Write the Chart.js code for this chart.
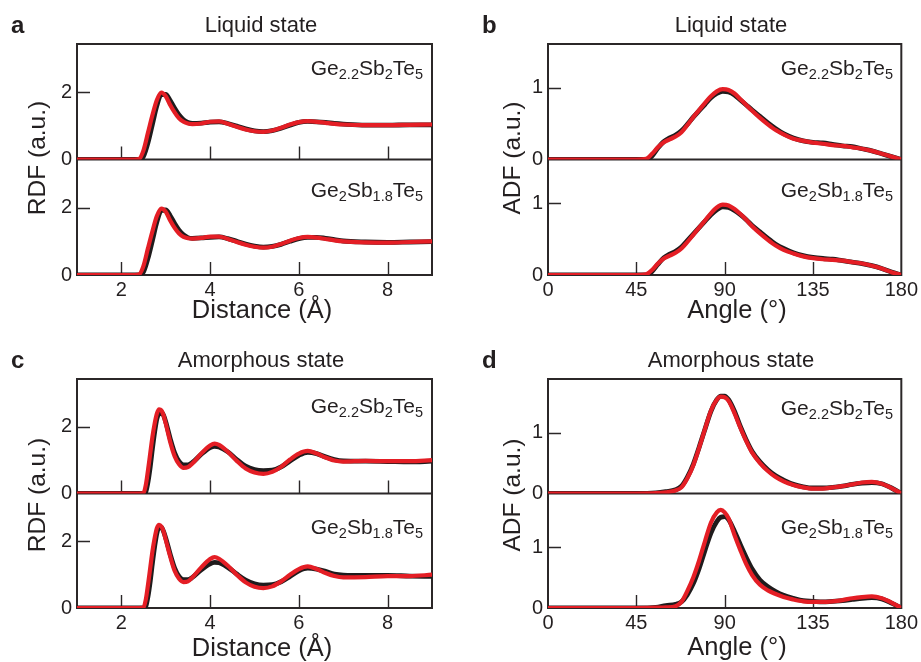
<!DOCTYPE html>
<html>
<head>
<meta charset="utf-8">
<script src="https://cdn.jsdelivr.net/npm/chart.js@4.4.0/dist/chart.umd.min.js"></script>
<style>
body { margin: 0; background: #fff; }
#fig { position: relative; width: 921px; height: 662px; font-family: "Liberation Sans", Arial, sans-serif; color: #231f20; overflow: hidden; }
canvas { position: absolute; }
.t { position: absolute; white-space: nowrap; line-height: 1; }
.lt { font-weight: bold; font-size: 24px; }
.ti { font-size: 22px; transform: translateX(-50%); }
.an { font-size: 21px; text-align: right; }
.an sub { font-size: 14.5px; vertical-align: -4px; line-height: 0; }
.ax { font-size: 25.5px; transform: translateX(-50%); }
.ay { font-size: 24.5px; transform: translate(-50%, -50%) rotate(-90deg); }
</style>
</head>
<body>
<div id="fig">
  <canvas id="chartA" width="460" height="330" style="left:0;top:0"></canvas>
  <canvas id="chartB" width="461" height="330" style="left:460px;top:0"></canvas>
  <canvas id="chartC" width="460" height="332" style="left:0;top:330px"></canvas>
  <canvas id="chartD" width="461" height="332" style="left:460px;top:330px"></canvas>

  <div class="t lt" style="left:11px;top:13px">a</div>
  <div class="t lt" style="left:482px;top:13px">b</div>
  <div class="t lt" style="left:11px;top:348px">c</div>
  <div class="t lt" style="left:482px;top:348px">d</div>

  <div class="t ti" style="left:261px;top:14px">Liquid state</div>
  <div class="t ti" style="left:731px;top:14px">Liquid state</div>
  <div class="t ti" style="left:261px;top:349px">Amorphous state</div>
  <div class="t ti" style="left:731px;top:349px">Amorphous state</div>

  <div class="t an" style="right:498px;top:57px">Ge<sub>2.2</sub>Sb<sub>2</sub>Te<sub>5</sub></div>
  <div class="t an" style="right:498px;top:179px">Ge<sub>2</sub>Sb<sub>1.8</sub>Te<sub>5</sub></div>
  <div class="t an" style="right:28px;top:57px">Ge<sub>2.2</sub>Sb<sub>2</sub>Te<sub>5</sub></div>
  <div class="t an" style="right:28px;top:179px">Ge<sub>2</sub>Sb<sub>1.8</sub>Te<sub>5</sub></div>
  <div class="t an" style="right:498px;top:395px">Ge<sub>2.2</sub>Sb<sub>2</sub>Te<sub>5</sub></div>
  <div class="t an" style="right:498px;top:516px">Ge<sub>2</sub>Sb<sub>1.8</sub>Te<sub>5</sub></div>
  <div class="t an" style="right:28px;top:397px">Ge<sub>2.2</sub>Sb<sub>2</sub>Te<sub>5</sub></div>
  <div class="t an" style="right:28px;top:516px">Ge<sub>2</sub>Sb<sub>1.8</sub>Te<sub>5</sub></div>

  <div class="t ay" style="left:37px;top:158px">RDF (a.u.)</div>
  <div class="t ay" style="left:512px;top:158px">ADF (a.u.)</div>
  <div class="t ay" style="left:37px;top:495px">RDF (a.u.)</div>
  <div class="t ay" style="left:512px;top:495px">ADF (a.u.)</div>

  <div class="t ax" style="left:262px;top:297px">Distance (Å)</div>
  <div class="t ax" style="left:737px;top:297px">Angle (°)</div>
  <div class="t ax" style="left:262px;top:635px">Distance (Å)</div>
  <div class="t ax" style="left:737px;top:634px">Angle (°)</div>
</div>

<script>
// tick labels
const rdfTicks = [2, 4, 6, 8];
const adfTicks = [0, 45, 90, 135, 180];
const rdfYTicks = [0, 2];
const adfYTicks = [0, 1];

// a: liquid RDF, distance in Angstrom
const liqRdfX = [1.0, 2.3, 2.4, 2.5, 2.6, 2.7, 2.8, 2.9, 3.0, 3.1, 3.2, 3.3, 3.4, 3.5, 3.6, 3.8, 4.0, 4.2, 4.4, 4.6, 4.8, 5.0, 5.2, 5.4, 5.6, 5.8, 6.0, 6.2, 6.4, 6.6, 6.8, 7.0, 7.5, 8.0, 8.5, 9.0];
const liqRdfGe22Black = [0, 0, 0, 0.1, 0.5, 1.05, 1.6, 1.93, 1.93, 1.75, 1.52, 1.32, 1.18, 1.1, 1.07, 1.08, 1.11, 1.12, 1.07, 0.99, 0.91, 0.85, 0.83, 0.86, 0.93, 1.02, 1.1, 1.13, 1.12, 1.1, 1.07, 1.05, 1.02, 1.02, 1.03, 1.03];
const liqRdfGe22Red = [0, 0, 0.02, 0.28, 0.8, 1.32, 1.77, 1.99, 1.88, 1.62, 1.40, 1.22, 1.12, 1.07, 1.05, 1.07, 1.12, 1.13, 1.06, 0.97, 0.89, 0.84, 0.82, 0.86, 0.94, 1.04, 1.11, 1.14, 1.12, 1.09, 1.06, 1.04, 1.02, 1.02, 1.03, 1.04];
const liqRdfSb18Black = [0, 0, 0, 0.1, 0.5, 1.03, 1.58, 1.92, 1.93, 1.76, 1.53, 1.33, 1.19, 1.11, 1.09, 1.1, 1.12, 1.13, 1.08, 1.0, 0.92, 0.86, 0.83, 0.85, 0.91, 1.0, 1.08, 1.12, 1.12, 1.09, 1.05, 1.01, 0.98, 0.97, 0.98, 0.99];
const liqRdfSb18Red = [0, 0, 0.02, 0.28, 0.8, 1.3, 1.75, 1.97, 1.88, 1.62, 1.4, 1.23, 1.13, 1.09, 1.08, 1.1, 1.14, 1.14, 1.07, 0.98, 0.9, 0.84, 0.81, 0.84, 0.92, 1.02, 1.1, 1.13, 1.11, 1.07, 1.03, 1.0, 0.97, 0.96, 0.98, 1.0];

// b: liquid ADF, angle in degrees
const liqAdfX = [0, 45, 50, 53, 56, 59, 62, 65, 68, 71, 74, 77, 80, 83, 86, 89, 92, 95, 98, 101, 104, 108, 112, 116, 120, 125, 130, 135, 140, 145, 150, 155, 160, 165, 170, 175, 180];
const liqAdfGe22Black = [0, 0, 0, 0.05, 0.16, 0.25, 0.3, 0.34, 0.4, 0.49, 0.59, 0.68, 0.77, 0.86, 0.92, 0.95, 0.94, 0.9, 0.83, 0.76, 0.69, 0.6, 0.51, 0.43, 0.36, 0.3, 0.26, 0.24, 0.23, 0.21, 0.19, 0.18, 0.15, 0.12, 0.08, 0.04, 0];
const liqAdfGe22Red = [0, 0, 0.01, 0.08, 0.17, 0.24, 0.28, 0.32, 0.38, 0.48, 0.59, 0.69, 0.79, 0.88, 0.95, 0.98, 0.97, 0.92, 0.84, 0.76, 0.68, 0.58, 0.49, 0.41, 0.35, 0.29, 0.26, 0.235, 0.22, 0.2, 0.19, 0.17, 0.15, 0.12, 0.08, 0.04, 0];
const liqAdfSb18Black = [0, 0, 0, 0.05, 0.15, 0.24, 0.29, 0.33, 0.39, 0.48, 0.57, 0.66, 0.75, 0.84, 0.91, 0.95, 0.94, 0.9, 0.84, 0.77, 0.69, 0.6, 0.51, 0.43, 0.37, 0.31, 0.27, 0.245, 0.23, 0.22, 0.2, 0.18, 0.16, 0.13, 0.09, 0.04, 0];
const liqAdfSb18Red = [0, 0, 0.01, 0.07, 0.16, 0.23, 0.27, 0.31, 0.37, 0.46, 0.56, 0.66, 0.76, 0.86, 0.94, 0.98, 0.97, 0.92, 0.85, 0.77, 0.68, 0.58, 0.49, 0.41, 0.35, 0.3, 0.26, 0.235, 0.22, 0.21, 0.2, 0.18, 0.16, 0.13, 0.09, 0.04, 0];

// c: amorphous RDF
const amoRdfX = [1.0, 2.4, 2.5, 2.55, 2.6, 2.65, 2.7, 2.75, 2.8, 2.85, 2.9, 2.95, 3.0, 3.1, 3.2, 3.3, 3.4, 3.5, 3.6, 3.8, 4.0, 4.1, 4.2, 4.4, 4.6, 4.8, 5.0, 5.2, 5.4, 5.6, 5.8, 6.0, 6.2, 6.4, 6.6, 6.8, 7.0, 7.5, 8.0, 8.5, 9.0];
const amoRdfGe22Black = [0, 0, 0, 0.05, 0.35, 0.8, 1.35, 1.85, 2.25, 2.42, 2.45, 2.35, 2.15, 1.65, 1.22, 0.96, 0.86, 0.86, 0.93, 1.18, 1.38, 1.42, 1.4, 1.25, 1.02, 0.82, 0.72, 0.69, 0.7, 0.8, 0.98, 1.15, 1.24, 1.2, 1.1, 1.02, 0.98, 0.97, 0.96, 0.95, 0.97];
const amoRdfGe22Red = [0, 0, 0.02, 0.25, 0.7, 1.2, 1.7, 2.1, 2.4, 2.53, 2.5, 2.35, 2.1, 1.55, 1.12, 0.88, 0.77, 0.79, 0.9, 1.2, 1.44, 1.5, 1.46, 1.25, 0.98, 0.75, 0.63, 0.59, 0.65, 0.8, 1.02, 1.2, 1.28, 1.2, 1.08, 0.99, 0.96, 0.98, 0.97, 0.97, 1.0];
const amoRdfSb18Black = [0, 0, 0, 0.05, 0.35, 0.8, 1.35, 1.85, 2.25, 2.42, 2.43, 2.3, 2.1, 1.62, 1.2, 0.95, 0.85, 0.85, 0.92, 1.15, 1.33, 1.37, 1.36, 1.22, 1.02, 0.84, 0.73, 0.69, 0.7, 0.79, 0.95, 1.12, 1.2, 1.17, 1.1, 1.02, 0.99, 0.98, 0.98, 0.96, 0.95];
const amoRdfSb18Red = [0, 0, 0.02, 0.25, 0.7, 1.2, 1.7, 2.1, 2.4, 2.5, 2.45, 2.3, 2.05, 1.55, 1.12, 0.88, 0.78, 0.8, 0.92, 1.22, 1.47, 1.53, 1.48, 1.27, 1.0, 0.77, 0.64, 0.6, 0.65, 0.8, 1.0, 1.17, 1.25, 1.17, 1.05, 0.96, 0.92, 0.93, 0.96, 0.96, 1.0];

// d: amorphous ADF
const amoAdfX = [0, 45, 55, 60, 65, 68, 71, 74, 77, 80, 83, 86, 88, 90, 92, 95, 98, 101, 104, 108, 112, 116, 120, 125, 130, 135, 140, 145, 150, 155, 160, 165, 170, 175, 180];
const amoAdfGe22Black = [0, 0, 0.01, 0.03, 0.06, 0.12, 0.27, 0.48, 0.76, 1.06, 1.35, 1.54, 1.6, 1.6, 1.54, 1.35, 1.1, 0.88, 0.69, 0.52, 0.39, 0.29, 0.22, 0.15, 0.11, 0.09, 0.09, 0.1, 0.12, 0.15, 0.17, 0.18, 0.16, 0.09, 0];
const amoAdfGe22Red = [0, 0, 0.005, 0.02, 0.05, 0.1, 0.25, 0.46, 0.75, 1.06, 1.36, 1.54, 1.59, 1.58, 1.52, 1.32, 1.08, 0.86, 0.67, 0.5, 0.37, 0.27, 0.2, 0.14, 0.1, 0.08, 0.08, 0.1, 0.12, 0.15, 0.18, 0.19, 0.16, 0.09, 0];
const amoAdfSb18Black = [0, 0, 0.01, 0.04, 0.06, 0.1, 0.22, 0.4, 0.65, 0.95, 1.23, 1.42, 1.49, 1.5, 1.45, 1.26, 1.04, 0.83, 0.64, 0.46, 0.35, 0.27, 0.21, 0.16, 0.12, 0.11, 0.1, 0.11, 0.12, 0.14, 0.16, 0.17, 0.15, 0.08, 0];
const amoAdfSb18Red = [0, 0, 0.005, 0.01, 0.03, 0.1, 0.28, 0.5, 0.78, 1.1, 1.4, 1.57, 1.61, 1.57, 1.47, 1.2, 0.95, 0.72, 0.54, 0.38, 0.29, 0.23, 0.18, 0.14, 0.11, 0.1, 0.1, 0.11, 0.13, 0.16, 0.18, 0.19, 0.16, 0.09, 0];

const FONT = '"Liberation Sans", Arial, sans-serif';
const TEXT = '#231f20';
const BLACK = '#1f1b1c';
const RED = '#e41e25';

// frame, middle divider and inward tick marks
const framePlugin = {
    id: 'frame',
    beforeDatasetsDraw(chart, args, opts) {
        const { ctx, chartArea: a, scales } = chart;
        const x = scales.x, yTop = scales.yTop, yBot = scales.yBot;
        ctx.save();
        ctx.strokeStyle = '#2b2728';
        ctx.lineWidth = 2;
        ctx.strokeRect(a.left, a.top, a.right - a.left, a.bottom - a.top);
        ctx.beginPath();
        ctx.moveTo(a.left, yTop.bottom);
        ctx.lineTo(a.right, yTop.bottom);
        ctx.stroke();

        ctx.lineWidth = 1.4;
        ctx.beginPath();
        [yTop, yBot].forEach(s => {
            s.ticks.forEach(t => {
                if (t.value === 0) return;
                const py = Math.round(s.getPixelForValue(t.value)) + 0.5;
                ctx.moveTo(a.left, py);
                ctx.lineTo(a.left + 13, py);
            });
        });
        const bases = opts.upperTicks ? [yTop.bottom, a.bottom] : [a.bottom];
        x.ticks.forEach(t => {
            if (t.value <= x.min || t.value >= x.max) return;
            const px = Math.round(x.getPixelForValue(t.value)) + 0.5;
            bases.forEach(b => {
                ctx.moveTo(px, b);
                ctx.lineTo(px, b - 13);
            });
        });
        ctx.stroke();
        ctx.restore();
    }
};

function points(xs, ys) {
    return xs.map((x, i) => ({ x: x, y: ys[i] }));
}

function curve(xs, ys, color, axis, order) {
    return {
        data: points(xs, ys),
        yAxisID: axis,
        borderColor: color,
        borderWidth: color === RED ? 4.2 : 4.8,
        cubicInterpolationMode: 'monotone',
        pointRadius: 0,
        order: order
    };
}

function yScale(tickVals, max, width) {
    return {
        type: 'linear',
        position: 'left',
        stack: 'panel',
        min: 0,
        max: max,
        border: { display: false },
        grid: { display: false, drawTicks: false },
        afterBuildTicks: s => { s.ticks = tickVals.map(v => ({ value: v })); },
        ticks: { padding: 5, color: TEXT, font: { family: FONT, size: 20 } },
        afterFit: s => { s.width = width; }
    };
}

function makePanel(id, p) {
    new Chart(document.getElementById(id), {
        type: 'line',
        data: {
            datasets: [
                curve(p.x, p.topBlack, BLACK, 'yTop', 2),
                curve(p.x, p.topRed, RED, 'yTop', 1),
                curve(p.x, p.botBlack, BLACK, 'yBot', 2),
                curve(p.x, p.botRed, RED, 'yBot', 1)
            ]
        },
        options: {
            responsive: false,
            animation: false,
            layout: { padding: { top: p.padTop, right: p.padRight, left: 0, bottom: 0 } },
            plugins: {
                legend: { display: false },
                tooltip: { enabled: false },
                frame: { upperTicks: p.upperTicks }
            },
            scales: {
                x: {
                    type: 'linear',
                    min: p.xMin,
                    max: p.xMax,
                    border: { display: false },
                    grid: { display: false, drawTicks: false },
                    afterBuildTicks: s => { s.ticks = p.xTicks.map(v => ({ value: v })); },
                    ticks: { padding: 3, autoSkip: false, maxRotation: 0, color: TEXT, font: { family: FONT, size: 20 } },
                    afterFit: s => { s.height = p.xHeight; }
                },
                // lower first, upper second: the later scale in a stack sits on top
                yBot: yScale(p.yTicks, p.yMax, p.yWidth),
                yTop: yScale(p.yTicks, p.yMax, p.yWidth)
            }
        },
        plugins: [framePlugin]
    });
}

makePanel('chartA', {
    x: liqRdfX, topBlack: liqRdfGe22Black, topRed: liqRdfGe22Red, botBlack: liqRdfSb18Black, botRed: liqRdfSb18Red,
    xMin: 1, xMax: 9, xTicks: rdfTicks, yTicks: rdfYTicks, yMax: 3.43,
    padTop: 44, padRight: 28, yWidth: 77, xHeight: 55, upperTicks: true
});
makePanel('chartB', {
    x: liqAdfX, topBlack: liqAdfGe22Black, topRed: liqAdfGe22Red, botBlack: liqAdfSb18Black, botRed: liqAdfSb18Red,
    xMin: 0, xMax: 180, xTicks: adfTicks, yTicks: adfYTicks, yMax: 1.61,
    padTop: 44, padRight: 19, yWidth: 88, xHeight: 55, upperTicks: false
});
makePanel('chartC', {
    x: amoRdfX, topBlack: amoRdfGe22Black, topRed: amoRdfGe22Red, botBlack: amoRdfSb18Black, botRed: amoRdfSb18Red,
    xMin: 1, xMax: 9, xTicks: rdfTicks, yTicks: rdfYTicks, yMax: 3.44,
    padTop: 49, padRight: 28, yWidth: 77, xHeight: 54, upperTicks: true
});
makePanel('chartD', {
    x: amoAdfX, topBlack: amoAdfGe22Black, topRed: amoAdfGe22Red, botBlack: amoAdfSb18Black, botRed: amoAdfSb18Red,
    xMin: 0, xMax: 180, xTicks: adfTicks, yTicks: adfYTicks, yMax: 1.88,
    padTop: 49, padRight: 19, yWidth: 88, xHeight: 54, upperTicks: false
});
</script>
</body>
</html>
